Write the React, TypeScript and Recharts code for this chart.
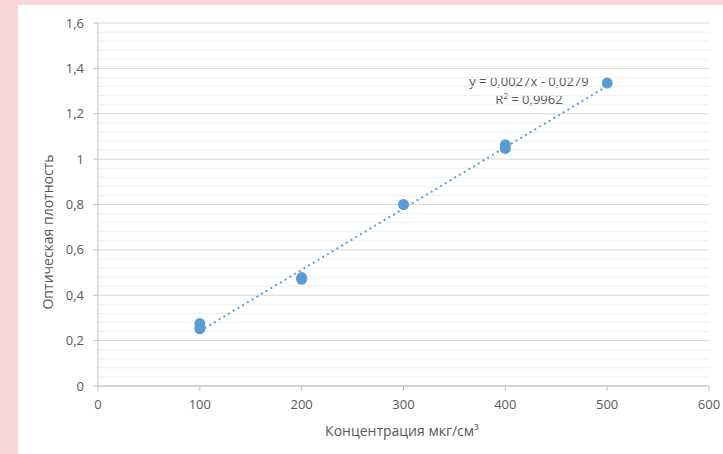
import {
  ComposedChart,
  Scatter,
  Line,
  XAxis,
  YAxis,
  CartesianGrid,
  ReferenceLine,
  Label,
} from "recharts";

// measured samples (two replicates per concentration)
const concentration = [100, 100, 200, 200, 300, 400, 400, 500];
const density = [0.275, 0.252, 0.47, 0.478, 0.8, 1.063, 1.047, 1.335];

// linear trend ends, from y = 0,0027x - 0,0279
const trendX = [100, 500];
const trendY = [0.2421, 1.3221];

const xTicks = [0, 100, 200, 300, 400, 500, 600];
const yTicks = [0, 0.2, 0.4, 0.6, 0.8, 1, 1.2, 1.4, 1.6];
const yMinor = [
  0.04, 0.08, 0.12, 0.16, 0.24, 0.28, 0.32, 0.36, 0.44, 0.48, 0.52, 0.56,
  0.64, 0.68, 0.72, 0.76, 0.84, 0.88, 0.92, 0.96, 1.04, 1.08, 1.12, 1.16,
  1.24, 1.28, 1.32, 1.36, 1.44, 1.48, 1.52, 1.56,
];

const equation = "y = 0,0027x - 0,0279";
const rSquared = "R² = 0,9962";

const points = concentration.map((x, i) => ({ x, y: density[i] }));
const trend = trendX.map((x, i) => ({ x, t: trendY[i] }));

const FONT = "'Open Sans', 'Noto Sans', sans-serif";
const TEXT = "#595959";
const BLUE = "#5b9bd5";

const fmt = (v: number) => String(Math.round(v * 10) / 10).replace(".", ",");

export default function App() {
  const tickStyle = { fill: TEXT, fontSize: 13, fontFamily: FONT };
  return (
    <div
      style={{
        position: "fixed",
        left: 0,
        top: 0,
        width: 723,
        height: 454,
        background: "#f9d5d3",
      }}
    >
      <div
        style={{
          position: "absolute",
          left: 18,
          top: 5,
          width: 705,
          height: 449,
          background: "#ffffff",
        }}
      >
        <ComposedChart
          width={705}
          height={449}
          margin={{ top: 18, right: 14, bottom: 0, left: 0 }}
        >
          {yMinor.map((v) => (
            <ReferenceLine key={v} y={v} stroke="#f0f0f0" strokeWidth={1} />
          ))}
          <CartesianGrid vertical={false} stroke="#d9d9d9" />
          <XAxis
            type="number"
            dataKey="x"
            domain={[0, 600]}
            ticks={xTicks}
            height={68}
            tick={tickStyle}
            tickSize={5}
            tickMargin={9}
            stroke="#bfbfbf"
            allowDataOverflow
          >
            <Label
              content={() => (
                <text
                  x={384}
                  y={431}
                  textAnchor="middle"
                  fill={TEXT}
                  fontSize={14}
                  fontFamily={FONT}
                >
                  Концентрация мкг/см³
                </text>
              )}
            />
          </XAxis>
          <YAxis
            type="number"
            domain={[0, 1.6]}
            ticks={yTicks}
            width={80}
            tick={tickStyle}
            tickFormatter={fmt}
            tickSize={5}
            tickMargin={9}
            stroke="#bfbfbf"
            allowDataOverflow
          >
            <Label
              content={() => (
                <text
                  x={35}
                  y={227}
                  textAnchor="middle"
                  fill={TEXT}
                  fontSize={14}
                  fontFamily={FONT}
                  transform="rotate(-90 35 227)"
                >
                  Оптическая плотность
                </text>
              )}
            />
          </YAxis>
          <Line
            data={trend}
            dataKey="t"
            stroke={BLUE}
            strokeWidth={2}
            strokeDasharray="2 3.5"
            dot={false}
            activeDot={false}
            isAnimationActive={false}
          />
          <Scatter
            data={points}
            dataKey="y"
            fill={BLUE}
            isAnimationActive={false}
            shape={(p: any) => <circle cx={p.cx} cy={p.cy} r={5.5} fill={BLUE} />}
          />
          <text
            x={511}
            y={76}
            textAnchor="middle"
            dominantBaseline="central"
            fill={TEXT}
            fontSize={13}
            fontFamily={FONT}
          >
            {equation}
          </text>
          <text
            x={511}
            y={94}
            textAnchor="middle"
            dominantBaseline="central"
            fill={TEXT}
            fontSize={13}
            fontFamily={FONT}
          >
            {rSquared}
          </text>
        </ComposedChart>
      </div>
    </div>
  );
}
